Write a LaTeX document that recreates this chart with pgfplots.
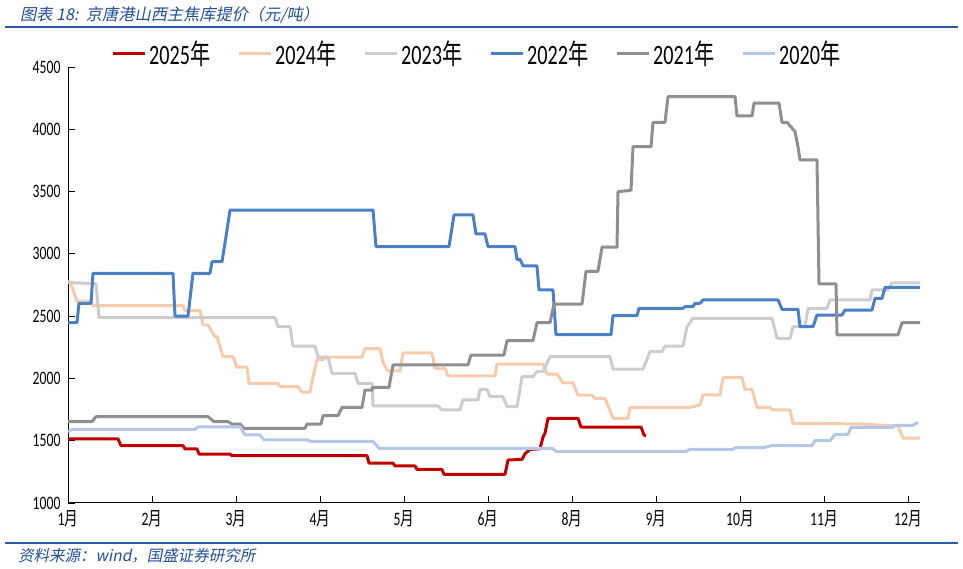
\documentclass[border=0pt]{standalone}
\usepackage{pgfplots}
\pgfplotsset{compat=1.18}
\usepackage{fontspec}
\setmainfont{Carlito}[FakeStretch=0.72]
\newfontfamily\cjk{Noto Sans CJK SC}[FakeStretch=0.72]
\newfontfamily\titlefont{Noto Sans CJK SC}[FakeSlant=0.2]
\definecolor{c25}{HTML}{C00000}
\definecolor{c24}{HTML}{F8CBAD}
\definecolor{c23}{HTML}{CDCDCD}
\definecolor{c22}{HTML}{4A80C6}
\definecolor{c21}{HTML}{8F8F8F}
\definecolor{c20}{HTML}{B4C7E7}
\definecolor{ttl}{HTML}{1F4E9A}
\definecolor{rule}{HTML}{2B5CA8}
\begin{document}
\begin{tikzpicture}
\path[use as bounding box] (0pt,0pt) rectangle (963pt,569pt);
\draw[rule, line width=2pt] (5pt,542pt) -- (958pt,542pt);
\draw[rule, line width=2pt] (5pt,26pt) -- (958pt,26pt);
\node[anchor=base west, inner sep=0pt, text=ttl, font=\titlefont\fontsize{16.2}{18}\selectfont] at (20pt,548pt) {图表 18:\ \ 京唐港山西主焦库提价（元/吨）};
\node[anchor=base west, inner sep=0pt, text=ttl, font=\titlefont\fontsize{15.5}{18}\selectfont] at (18pt,7pt) {资料来源：wind，国盛证券研究所};
\begin{axis}[
  at={(68pt,66pt)}, anchor=south west,
  width=852pt, height=436pt, scale only axis,
  xmin=0, xmax=852, ymin=1000, ymax=4500,
  axis x line*=bottom, axis y line*=left,
  axis line style={-, draw=black, line width=1pt},
  clip=false,
  xtick={0,84,168,252,336,420,504,588,672,756,840},
  xticklabels={1{\cjk 月},2{\cjk 月},3{\cjk 月},4{\cjk 月},5{\cjk 月},6{\cjk 月},8{\cjk 月},9{\cjk 月},10{\cjk 月},11{\cjk 月},12{\cjk 月}},
  ytick={1000,1500,2000,2500,3000,3500,4000,4500},
  tick align=inside, major tick length=7pt,
  tick style={black, line width=0.8pt},
  /pgf/number format/assume math mode=true,
  /pgf/number format/1000 sep={},
  ticklabel style={font=\fontsize{19}{21}\selectfont},
  yticklabel style={xshift=-4pt},
  xticklabel style={yshift=-4pt},
  no markers,
  every axis plot/.append style={line width=3pt, line join=round},
  legend style={at={(0.0505,1.032)}, anchor=west, draw=none, fill=none,
    font=\fontsize{28}{30}\selectfont, column sep=0pt, inner sep=0pt,
    nodes={inner sep=0pt}},
  legend columns=6,
  legend image code/.code={\draw[#1] (0pt,0pt) -- (32pt,0pt);},
]
\addplot[c25] coordinates {(0,1515)(50,1515)(53,1460)(115,1460)(117,1435)(129,1435)(131,1393)(162,1393)(164,1380)(299,1380)(301,1320)(325,1320)(327,1297)(347,1297)(349,1270)(374,1270)(376,1230)(437,1230)(440,1345)(454,1350)(457,1395)(462,1430)(472,1435)(475,1530)(477,1560)(480,1680)(510,1680)(513,1610)(573,1610)(576,1545)(578,1540)};
\addlegendentry{\makebox[91pt][l]{\hspace{3pt}2025{\cjk 年}}}
\addplot[c24] coordinates {(0,2775)(2,2775)(9,2620)(22,2620)(25,2585)(115,2585)(117,2545)(132,2545)(135,2430)(140,2430)(147,2335)(149,2335)(155,2175)(165,2175)(169,2090)(179,2090)(181,1960)(210,1960)(212,1935)(230,1935)(234,1890)(242,1890)(244,1975)(249,2150)(255,2150)(257,2170)(294,2170)(297,2240)(312,2240)(315,2125)(320,2060)(332,2060)(335,2205)(364,2205)(367,2080)(377,2080)(380,2020)(427,2020)(429,2115)(475,2115)(479,2035)(489,2035)(495,1965)(505,1965)(510,1865)(524,1865)(527,1840)(537,1840)(545,1680)(560,1680)(562,1768)(622,1768)(632,1787)(635,1867)(652,1867)(655,2006)(674,2006)(677,1913)(684,1913)(689,1768)(702,1768)(704,1747)(722,1747)(725,1640)(790,1635)(830,1618)(835,1520)(852,1520)};
\addlegendentry{\makebox[91pt][l]{\hspace{3pt}2024{\cjk 年}}}
\addplot[c23] coordinates {(0,2770)(28,2760)(31,2488)(207,2488)(210,2415)(222,2415)(225,2260)(247,2260)(250,2170)(260,2170)(264,2041)(287,2041)(290,1961)(304,1961)(305,1779)(370,1779)(374,1747)(392,1747)(395,1827)(410,1827)(412,1913)(419,1913)(422,1853)(435,1853)(439,1773)(449,1773)(454,2014)(465,2014)(469,2054)(475,2054)(482,2174)(542,2174)(545,2075)(575,2075)(582,2215)(594,2215)(597,2260)(615,2260)(619,2415)(625,2483)(704,2483)(709,2322)(722,2322)(725,2415)(737,2415)(740,2563)(759,2563)(762,2630)(802,2630)(804,2710)(820,2710)(824,2768)(852,2768)};
\addlegendentry{\makebox[91pt][l]{\hspace{3pt}2023{\cjk 年}}}
\addplot[c22] coordinates {(0,2448)(9,2448)(11,2603)(23,2603)(25,2844)(105,2844)(107,2501)(120,2501)(125,2844)(142,2844)(144,2937)(154,2937)(158,3138)(162,3352)(305,3352)(308,3058)(381,3058)(386,3312)(405,3312)(408,3160)(417,3160)(420,3058)(447,3058)(449,2956)(452,2956)(455,2903)(469,2903)(471,2710)(485,2710)(488,2351)(543,2351)(545,2504)(569,2504)(571,2563)(615,2563)(617,2576)(625,2576)(627,2603)(632,2603)(635,2630)(710,2630)(714,2555)(730,2555)(732,2415)(745,2415)(749,2509)(774,2509)(777,2549)(804,2549)(807,2643)(814,2643)(817,2731)(852,2731)};
\addlegendentry{\makebox[91pt][l]{\hspace{3pt}2022{\cjk 年}}}
\addplot[c21] coordinates {(0,1653)(24,1653)(28,1693)(140,1693)(146,1653)(160,1653)(164,1634)(172,1634)(176,1600)(237,1600)(239,1634)(253,1634)(255,1701)(270,1701)(274,1768)(294,1768)(297,1907)(304,1907)(305,1929)(321,1929)(325,2108)(400,2108)(403,2188)(436,2188)(439,2303)(465,2303)(469,2448)(482,2448)(486,2597)(514,2597)(518,2860)(530,2860)(534,3053)(549,3053)(550,3499)(563,3510)(565,3860)(583,3860)(585,4056)(597,4056)(600,4262)(667,4262)(669,4107)(684,4107)(686,4209)(711,4209)(714,4056)(719,4056)(727,3981)(730,3860)(732,3754)(749,3754)(751,2758)(768,2758)(769,2349)(830,2349)(834,2448)(852,2448)};
\addlegendentry{\makebox[91pt][l]{\hspace{3pt}2021{\cjk 年}}}
\addplot[c20] coordinates {(0,1572)(4,1591)(127,1591)(130,1612)(172,1612)(177,1546)(192,1546)(196,1506)(239,1506)(243,1495)(305,1495)(311,1439)(484,1439)(489,1412)(618,1412)(622,1431)(665,1431)(667,1444)(695,1444)(704,1460)(744,1460)(747,1500)(762,1500)(767,1551)(780,1551)(783,1607)(825,1607)(827,1624)(845,1624)(850,1648)};
\addlegendentry{\makebox[91pt][l]{\hspace{3pt}2020{\cjk 年}}}
\end{axis}
\end{tikzpicture}
\end{document}
